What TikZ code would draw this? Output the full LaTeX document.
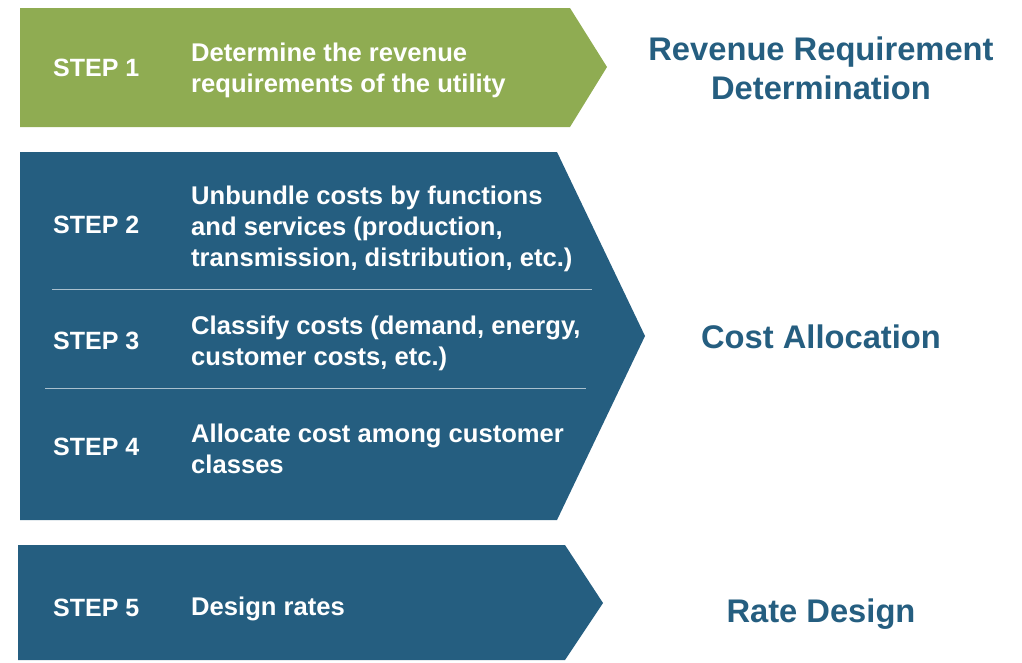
\documentclass[tikz,border=0pt]{standalone}
\usepackage{fontspec}
\setmainfont{Liberation Sans}
\usetikzlibrary{positioning}
\definecolor{stepgreen}{RGB}{143,172,82}
\definecolor{stepblue}{RGB}{37,94,128}
\definecolor{linegray}{RGB}{170,192,206}

\begin{document}
\begin{tikzpicture}[x=1pt, y=-1pt, text=white,
  steplabel/.style={anchor=west, inner sep=0pt, font=\fontsize{25}{31}\selectfont\bfseries},
  stepdesc/.style={anchor=west, inner sep=0pt, align=left, font=\fontsize{25.6}{31}\selectfont\bfseries},
  phase/.style={inner sep=0pt, align=center, text=stepblue, font=\fontsize{32.7}{39}\selectfont\bfseries}]
\def \boxleft {20}
\def \labelx {53}
\def \descx {191}
\def \phasex {821}

\useasboundingbox (0,0) rectangle (1022,662);

%Step 1
\fill[stepgreen] (\boxleft,8) -- (570,8) -- (607,67) -- (570,127) -- (\boxleft,127) -- cycle;
\node[steplabel] (s1) at (\labelx,68) {STEP 1};
\node[stepdesc] (d1) at (\descx,70) {Determine the revenue\\requirements of the utility};

%Steps 2 to 4
\fill[stepblue] (\boxleft,152) -- (557,152) -- (645,336) -- (557,520) -- (\boxleft,520) -- cycle;
\draw[linegray, thick] (52,289) -- (592,289);
\draw[linegray, thick] (45,388) -- (586,388);
\node[steplabel] (s2) at (\labelx,225) {STEP 2};
\node[stepdesc] (d2) at (\descx,229) {Unbundle costs by functions\\and services (production,\\transmission, distribution, etc.)};
\node[steplabel] (s3) at (\labelx,341) {STEP 3};
\node[stepdesc] (d3) at (\descx,343) {Classify costs (demand, energy,\\customer costs, etc.)};
\node[steplabel] (s4) at (\labelx,447) {STEP 4};
\node[stepdesc] (d4) at (\descx,449) {Allocate cost among customer\\classes};

%Step 5
\fill[stepblue] (18,545) -- (565,545) -- (603,603) -- (565,660) -- (18,660) -- cycle;
\node[steplabel] (s5) at (\labelx,608) {STEP 5};
\node[stepdesc] (d5) at (\descx,609) {Design rates};

%Phases
\node[phase] (p1) at (\phasex,68) {Revenue Requirement\\Determination};
\node[phase] (p2) at (\phasex,337) {Cost Allocation};
\node[phase] (p3) at (\phasex,614) {Rate Design};

\end{tikzpicture}
\end{document}
